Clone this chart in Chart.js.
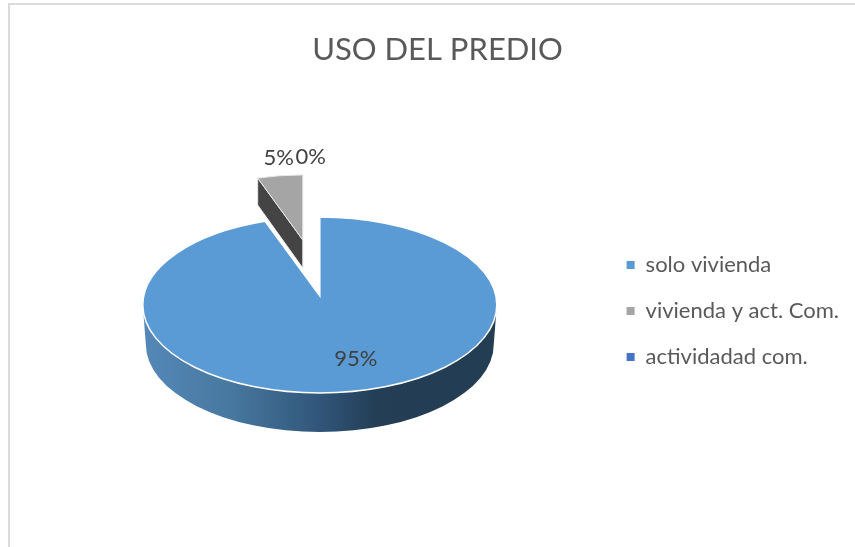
<!DOCTYPE html>
<html><head><meta charset="utf-8">
<style>
html,body{margin:0;padding:0;background:#fff;overflow:hidden;width:855px;height:547px}
#frame{position:absolute;left:8px;top:3px;width:1000px;height:1000px;border:2px solid #dcdcdc;box-sizing:border-box}
canvas{position:absolute;left:8px;top:3px}
</style>
<script src="https://cdn.jsdelivr.net/npm/chart.js@4/dist/chart.umd.js"></script>
</head><body>
<div id="frame"></div>
<canvas id="c" width="864" height="544"></canvas>
<script>
const chartTitle = 'USO DEL PREDIO';
const categories = ['solo vivienda', 'vivienda y act. Com.', 'actividadad com.'];
const seriesValues = [95, 5, 0];
const sliceColors = ['#5B9BD5', '#A5A5A5', '#4472C4'];
const FONT = 'Lato, Carlito, sans-serif';
const PIE_SHIFT_X = 5.5;

const pie3d = {
  id: 'pie3d',
  beforeDatasetDraw(chart, args) {
    const ctx = chart.ctx, arcs = chart.getDatasetMeta(args.index).data;
    const blue = arcs[0], gray = arcs[1];
    const cx = blue.x + PIE_SHIFT_X, rx = blue.outerRadius, ry = rx * 0.497;
    const cy = blue.y - 6, tipY = cy - 9, depth = 39;
    const g = ctx.createLinearGradient(cx - rx, 0, cx + rx, 0);
    g.addColorStop(0, '#5588b8'); g.addColorStop(0.25, '#47789f');
    g.addColorStop(0.5, '#31557a'); g.addColorStop(0.66, '#233e55'); g.addColorStop(1, '#233d53');
    ctx.save();
    ctx.beginPath();
    ctx.ellipse(cx, cy, rx, ry, 0, Math.PI, 0, true);
    ctx.ellipse(cx, cy + depth, rx - 3, ry, 0, 0, Math.PI, false);
    ctx.closePath();
    ctx.fillStyle = g; ctx.fill();
    ctx.beginPath();
    ctx.moveTo(cx, tipY);
    ctx.ellipse(cx, cy, rx, ry, 0, blue.startAngle, blue.endAngle, false);
    ctx.closePath();
    ctx.fillStyle = sliceColors[0]; ctx.fill();
    ctx.strokeStyle = '#ffffff'; ctx.lineWidth = 1.5; ctx.stroke();
    const gx = cx - 17, gy = cy - 65, grx = rx * 0.825, gry = ry * 0.74, gd = 28;
    const lx = gx + grx * Math.cos(gray.startAngle), ly = gy + gry * Math.sin(gray.startAngle);
    ctx.beginPath();
    ctx.moveTo(lx, ly); ctx.lineTo(gx, gy); ctx.lineTo(gx, gy + gd); ctx.lineTo(lx, ly + gd - 1);
    ctx.closePath();
    ctx.fillStyle = '#444444'; ctx.fill();
    ctx.strokeStyle = '#e8e8e8'; ctx.lineWidth = 1; ctx.stroke();
    ctx.beginPath();
    ctx.moveTo(gx, gy);
    ctx.ellipse(gx, gy, grx, gry, 0, gray.startAngle, gray.endAngle, false);
    ctx.closePath();
    ctx.fillStyle = sliceColors[1]; ctx.fill();
    ctx.strokeStyle = '#e8e8e8'; ctx.lineWidth = 1; ctx.stroke();
    ctx.restore();
    return false;
  },
  afterDatasetsDraw(chart) {
    const ctx = chart.ctx, a = chart.getDatasetMeta(0).data[0];
    const total = seriesValues.reduce((s, v) => s + v, 0);
    const offs = [[36, 48], [-41, -153], [-9, -154]];
    ctx.save();
    ctx.font = '22px ' + FONT; ctx.fillStyle = '#404040';
    ctx.textAlign = 'center'; ctx.textBaseline = 'middle';
    seriesValues.forEach((v, i) => {
      ctx.fillText(Math.round(v / total * 100) + '%', a.x + PIE_SHIFT_X + offs[i][0], a.y + offs[i][1]);
    });
    ctx.restore();
  }
};

new Chart(document.getElementById('c'), {
  type: 'pie',
  data: { labels: categories, datasets: [{ data: seriesValues, backgroundColor: sliceColors, borderWidth: 0 }] },
  options: {
    responsive: false, animation: false, radius: 177,
    layout: { padding: { left: 18, right: 23, top: 0, bottom: 0 } },
    plugins: {
      tooltip: { enabled: false },
      title: { display: true, text: chartTitle, color: '#595959',
        font: { family: FONT, size: 31, weight: 'normal', lineHeight: 1.2 },
        padding: { top: 28, bottom: 6.8 } },
      legend: { position: 'right', fullSize: false, labels: { boxWidth: 8, boxHeight: 8, padding: 24, color: '#595959',
        font: { family: FONT, size: 22 } } }
    }
  },
  plugins: [pie3d]
});
</script>
</body></html>
